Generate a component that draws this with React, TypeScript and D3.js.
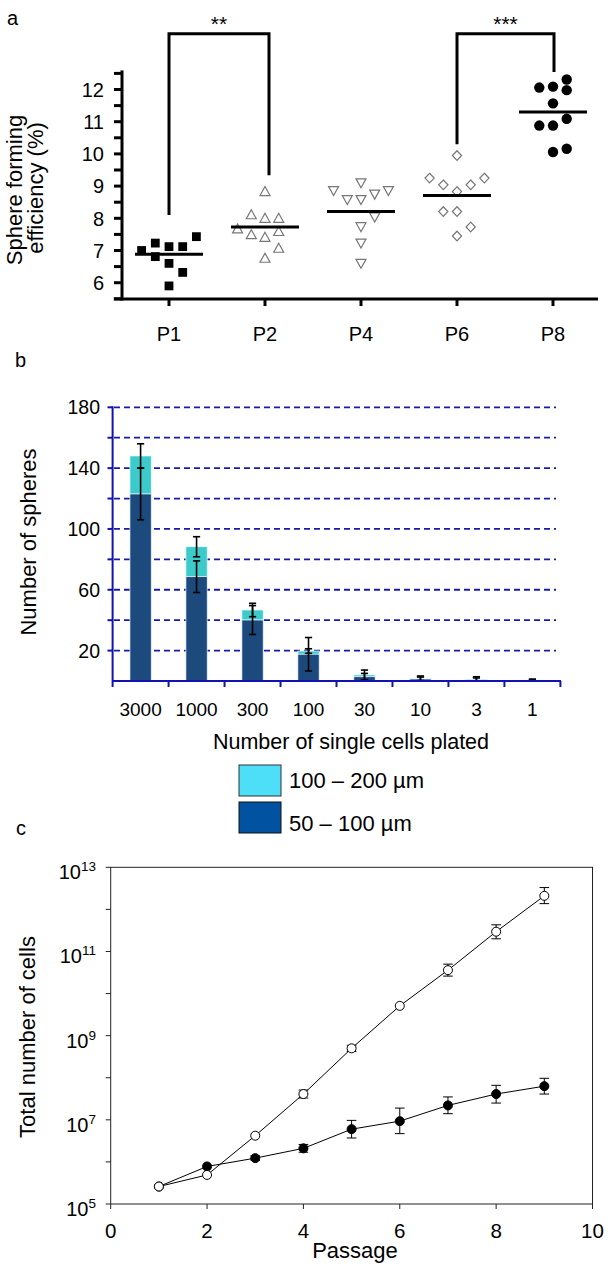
import React from "react";
import * as d3 from "d3";

const FONT = "'Liberation Sans', Arial, Helvetica, sans-serif";

// ---------- Panel a data ----------
const passages = ["P1", "P2", "P4", "P6", "P8"];
const p1Values = [7.0, 7.23, 7.12, 7.12, 7.43, 6.81, 6.6, 6.32, 5.9];
const p1Slots = [-2, -1, 0, 1, 2, -1, 0, 1, 0];
const p2Values = [8.83, 8.11, 8.0, 8.0, 7.67, 7.49, 7.41, 7.59, 7.07, 6.76];
const p2Slots = [0, -1, 0, 1, -2, -1, 0, 1, 1, 0];
const p4Values = [8.86, 8.58, 9.1, 8.58, 8.75, 8.86, 8.04, 7.74, 7.23, 6.6];
const p4Slots = [-2, -1, 0, 0, 1, 2, 1, 0, 0, 0];
const p6Values = [9.95, 9.25, 9.04, 8.83, 9.04, 9.25, 8.21, 8.21, 7.73, 7.45];
const p6Slots = [0, -2, -1, 0, 1, 2, -1, 0, 1, 0];
const p8Values = [12.06, 12.09, 12.31, 11.98, 11.57, 10.88, 10.88, 11.09, 10.06, 10.16];
const p8Slots = [-1, 0, 1, 1, 0, -1, 0, 1, 0, 1];
const passageMeans = [6.88, 7.73, 8.21, 8.71, 11.3];
const effTicks = [6, 7, 8, 9, 10, 11, 12];
const effMinorTicks = [5.5, 6, 6.5, 7, 7.5, 8, 8.5, 9, 9.5, 10, 10.5, 11, 11.5, 12, 12.5];
// significance brackets: [from, to, label, leftLegEnd, rightLegEnd, top]
const brackets: [string, string, string, number, number, number][] = [
  ["P1", "P2", "**", 8.1, 9.34, 13.73],
  ["P6", "P8", "***", 10.3, 12.54, 13.73],
];

// ---------- Panel b data ----------
const cellsPlated = ["3000", "1000", "300", "100", "30", "10", "3", "1"];
const small50to100 = [123, 68.6, 40.1, 17.6, 2.8, 1.3, 0.8, 0.5];
const small50to100Err = [17, 10.4, 9.5, 11, 2.2, 1.3, 1.2, 0.5];
const totalSpheres = [148, 88.3, 46.7, 19.7, 4.0, 1.8, 1.0, 0.6];
const totalSpheresErr = [8, 6.6, 4.4, 1.5, 3.2, 1.5, 1.8, 0.6];
const sphereGrid = [20, 40, 60, 80, 100, 120, 140, 160, 180];
const sphereTickLabels = [20, 60, 100, 140, 180];

// ---------- Panel c data ----------
const passageNums = [1, 2, 3, 4, 5, 6, 7, 8, 9];
const openMean = [2.6e5, 4.9e5, 4.2e6, 4.1e7, 5.0e8, 5.1e9, 3.6e10, 2.95e11, 2.1e12];
const openLo = [2.6e5, 4.9e5, 4.2e6, 3.3e7, 4.2e8, 5.1e9, 2.6e10, 2.0e11, 1.37e12];
const openHi = [2.6e5, 4.9e5, 4.2e6, 5.1e7, 5.9e8, 5.1e9, 5.0e10, 4.3e11, 3.3e12];
const filledMean = [2.6e5, 7.8e5, 1.23e6, 2.1e6, 6.0e6, 9.3e6, 2.2e7, 4.1e7, 6.3e7];
const filledLo = [2.6e5, 7.8e5, 1.1e6, 1.7e6, 3.7e6, 4.7e6, 1.4e7, 2.5e7, 4.1e7];
const filledHi = [2.6e5, 7.8e5, 1.4e6, 2.6e6, 9.7e6, 1.9e7, 3.5e7, 6.6e7, 9.7e7];
const passageTicks = [0, 2, 4, 6, 8, 10];
const cellExpTicks = [5, 6, 7, 8, 9, 10, 11, 12, 13];
const cellExpLabels = [5, 7, 9, 11, 13];

function PanelA() {
  const x = d3.scalePoint<string>().domain(passages).range([169, 553]);
  const y = d3.scaleLinear().domain([6, 12]).range([282.7, 89.5]);
  const slotStep = 13.7;
  const groups = [
    { v: p1Values, s: p1Slots },
    { v: p2Values, s: p2Slots },
    { v: p4Values, s: p4Slots },
    { v: p6Values, s: p6Slots },
    { v: p8Values, s: p8Slots },
  ];
  const axisX = 122;
  const baseY = 299;
  const marker = (gi: number, cx: number, cy: number, k: number) => {
    if (gi === 0)
      return <rect key={k} x={cx - 4.4} y={cy - 4.4} width={8.8} height={8.8} fill="#000" />;
    if (gi === 1)
      return (
        <path key={k} d={`M${cx},${cy - 5} L${cx + 5},${cy + 4} L${cx - 5},${cy + 4} Z`}
          fill="#fff" stroke="#777" strokeWidth={1.2} />
      );
    if (gi === 2)
      return (
        <path key={k} d={`M${cx - 5},${cy - 4} L${cx + 5},${cy - 4} L${cx},${cy + 5} Z`}
          fill="#fff" stroke="#777" strokeWidth={1.2} />
      );
    if (gi === 3)
      return (
        <path key={k} d={`M${cx},${cy - 4.8} L${cx + 4.6},${cy} L${cx},${cy + 4.8} L${cx - 4.6},${cy} Z`}
          fill="#fff" stroke="#777" strokeWidth={1.2} />
      );
    return <circle key={k} cx={cx} cy={cy} r={5.2} fill="#000" />;
  };
  return (
    <g fontFamily={FONT}>
      <text x={7} y={25} fontSize={20}>a</text>
      {/* y label */}
      <text transform={`translate(22,190) rotate(-90)`} textAnchor="middle" fontSize={22}>Sphere forming</text>
      <text transform={`translate(43,188) rotate(-90)`} textAnchor="middle" fontSize={22}>efficiency (%)</text>
      {/* axes */}
      <line x1={axisX} x2={axisX} y1={y(12.5) - 3} y2={baseY + 1.5} stroke="#000" strokeWidth={3} />
      <line x1={113.8} x2={598} y1={baseY} y2={baseY} stroke="#000" strokeWidth={3} />
      {effMinorTicks.map((t) => (
        <line key={t} x1={axisX - 8} x2={axisX} y1={y(t)} y2={y(t)} stroke="#000" strokeWidth={3} />
      ))}
      {effTicks.map((t) => (
        <text key={t} x={104} y={y(t)} dy="0.36em" textAnchor="end" fontSize={20}>{t}</text>
      ))}
      {passages.map((p) => (
        <g key={p}>
          <line x1={x(p)} x2={x(p)} y1={baseY} y2={baseY + 7} stroke="#000" strokeWidth={3} />
          <text x={x(p)} y={341} textAnchor="middle" fontSize={20}>{p}</text>
        </g>
      ))}
      {/* brackets */}
      {brackets.map(([a, b, lab, la, lb, top], i) => {
        const xa = x(a)!;
        const xb = x(b)! + (i === 0 ? 4 : 1);
        return (
          <g key={lab}>
            <path d={`M${xa},${y(la)} L${xa},${y(top)} L${xb},${y(top)} L${xb},${y(lb)}`}
              fill="none" stroke="#000" strokeWidth={3} />
            <text x={(xa + xb) / 2} y={y(top) - 3} textAnchor="middle" fontSize={21}>{lab}</text>
          </g>
        );
      })}
      {/* points */}
      {groups.map((g, gi) => (
        <g key={gi}>
          {g.v.map((v, i) => marker(gi, x(passages[gi])! + g.s[i] * slotStep, y(v), i))}
        </g>
      ))}
      {/* means */}
      {passageMeans.map((m, i) => (
        <line key={i} x1={x(passages[i])! - 34} x2={x(passages[i])! + 34} y1={y(m)} y2={y(m)}
          stroke="#000" strokeWidth={3} />
      ))}
    </g>
  );
}

function PanelB() {
  const x = d3.scaleBand<string>().domain(cellsPlated).range([112.6, 560.4]).padding(0);
  const y = d3.scaleLinear().domain([0, 180]).range([681, 407.3]);
  const bw = x.bandwidth() * 0.38;
  const blue = "#1212b4";
  const darkBar = "#1c4a7c";
  const cyanBar = "#3ccaca";
  const cap = 3.6;
  const err = (cx: number, v: number, e: number, k: string) => (
    <g key={k} stroke="#000" strokeWidth={1.6}>
      <line x1={cx} x2={cx} y1={y(Math.max(0, v - e))} y2={y(v + e)} />
      <line x1={cx - cap} x2={cx + cap} y1={y(v + e)} y2={y(v + e)} />
      <line x1={cx - cap} x2={cx + cap} y1={y(Math.max(0, v - e))} y2={y(Math.max(0, v - e))} />
    </g>
  );
  return (
    <g fontFamily={FONT}>
      <text x={15} y={367} fontSize={20}>b</text>
      <text transform="translate(36,542) rotate(-90)" textAnchor="middle" fontSize={22}>Number of spheres</text>
      {sphereGrid.map((g) => (
        <line key={g} x1={114} x2={556} y1={y(g)} y2={y(g)} stroke="#1a1aa8" strokeWidth={1.8}
          strokeDasharray="6,4" />
      ))}
      {cellsPlated.map((c, i) => {
        const cx = x(c)! + x.bandwidth() / 2;
        return (
          <g key={c}>
            <rect x={cx - bw / 2} y={y(totalSpheres[i])} width={bw}
              height={y(small50to100[i]) - y(totalSpheres[i])} fill={cyanBar} stroke="#e8ffff" strokeWidth={0.7} />
            <rect x={cx - bw / 2} y={y(small50to100[i])} width={bw}
              height={y(0) - y(small50to100[i])} fill={darkBar} stroke="#e8f4ff" strokeWidth={0.7} />
          </g>
        );
      })}
      {cellsPlated.map((c, i) => {
        const cx = x(c)! + x.bandwidth() / 2;
        return (
          <g key={c}>
            {err(cx, small50to100[i], small50to100Err[i], "d")}
            {err(cx, totalSpheres[i], totalSpheresErr[i], "t")}
          </g>
        );
      })}
      {/* axes */}
      <line x1={112.6} x2={112.6} y1={y(180) - 1} y2={y(0)} stroke={blue} strokeWidth={2} />
      <line x1={112.6} x2={561} y1={y(0)} y2={y(0)} stroke={blue} strokeWidth={2} />
      {sphereGrid.map((g) => (
        <line key={g} x1={107.5} x2={112.6} y1={y(g)} y2={y(g)} stroke={blue} strokeWidth={2} />
      ))}
      {[...cellsPlated.map((c) => x(c)!), 560.4].map((bx, i) => (
        <line key={i} x1={bx} x2={bx} y1={y(0)} y2={y(0) + 6} stroke={blue} strokeWidth={2} />
      ))}
      {sphereTickLabels.map((t) => (
        <text key={t} x={100} y={y(t)} dy="0.36em" textAnchor="end" fontSize={19.5}>{t}</text>
      ))}
      {cellsPlated.map((c) => (
        <text key={c} x={x(c)! + x.bandwidth() / 2} y={716} textAnchor="middle" fontSize={19}>{c}</text>
      ))}
      <text x={351} y={749} textAnchor="middle" fontSize={21.5}>Number of single cells plated</text>
      {/* legend */}
      <rect x={239} y={765} width={42} height={31} fill="#4ddff8" stroke="#333" strokeWidth={1} />
      <rect x={239} y={802} width={42} height={31} fill="#0252a2" stroke="#111" strokeWidth={1} />
      <text x={289} y={788} fontSize={22}>100 – 200 µm</text>
      <text x={289} y={831} fontSize={22}>50 – 100 µm</text>
    </g>
  );
}

function PanelC() {
  const x = d3.scaleLinear().domain([0, 10]).range([110.7, 592.5]);
  const y = d3.scaleLog().domain([1e5, 1e13]).range([1204, 867.3]);
  const line = d3.line<number>().x((_, i) => x(passageNums[i])).y((d) => y(d));
  const cap = 4.8;
  const errs = (lo: number[], hi: number[], k: string) =>
    passageNums.map((p, i) =>
      lo[i] < hi[i] ? (
        <g key={k + i} stroke="#000" strokeWidth={1}>
          <line x1={x(p)} x2={x(p)} y1={y(lo[i])} y2={y(hi[i])} />
          <line x1={x(p) - cap} x2={x(p) + cap} y1={y(lo[i])} y2={y(lo[i])} />
          <line x1={x(p) - cap} x2={x(p) + cap} y1={y(hi[i])} y2={y(hi[i])} />
        </g>
      ) : null
    );
  return (
    <g fontFamily={FONT}>
      <text x={16} y={835} fontSize={20}>c</text>
      <text transform="translate(35,1037) rotate(-90)" textAnchor="middle" fontSize={22}>Total number of cells</text>
      {/* frame */}
      <rect x={x(0)} y={y(1e13)} width={x(10) - x(0)} height={y(1e5) - y(1e13)} fill="none"
        stroke="#222" strokeWidth={1} />
      {cellExpTicks.map((e) => (
        <line key={e} x1={x(0) - 5} x2={x(0)} y1={y(Math.pow(10, e))} y2={y(Math.pow(10, e))}
          stroke="#222" strokeWidth={1} />
      ))}
      {cellExpLabels.map((e) => (
        <text key={e} x={96} y={y(Math.pow(10, e)) + 12} textAnchor="end" fontSize={20}>
          10<tspan dy={-8} fontSize={13.5}>{e}</tspan>
        </text>
      ))}
      {passageTicks.map((t) => (
        <g key={t}>
          <line x1={x(t)} x2={x(t)} y1={y(1e5)} y2={y(1e5) + 5} stroke="#222" strokeWidth={1} />
          <text x={x(t)} y={1237.5} textAnchor="middle" fontSize={20.5}>{t}</text>
        </g>
      ))}
      <text x={355} y={1258} textAnchor="middle" fontSize={22}>Passage</text>
      {/* series */}
      <path d={line(filledMean) ?? ""} fill="none" stroke="#000" strokeWidth={1} />
      <path d={line(openMean) ?? ""} fill="none" stroke="#000" strokeWidth={1} />
      {errs(filledLo, filledHi, "f")}
      {errs(openLo, openHi, "o")}
      {filledMean.map((v, i) => (
        <circle key={"f" + i} cx={x(passageNums[i])} cy={y(v)} r={4.5} fill="#000" stroke="#000" strokeWidth={1} />
      ))}
      {openMean.map((v, i) => (
        <circle key={"o" + i} cx={x(passageNums[i])} cy={y(v)} r={4.5} fill="#fff" stroke="#000" strokeWidth={1} />
      ))}
    </g>
  );
}

export default function App() {
  return (
    <div style={{ position: "absolute", left: 0, top: 0 }}>
      <svg width={609} height={1271} viewBox="0 0 609 1271" style={{ display: "block", background: "#fff" }}>
        <rect x={0} y={0} width={609} height={1271} fill="#fff" />
        <PanelA />
        <PanelB />
        <PanelC />
      </svg>
    </div>
  );
}
